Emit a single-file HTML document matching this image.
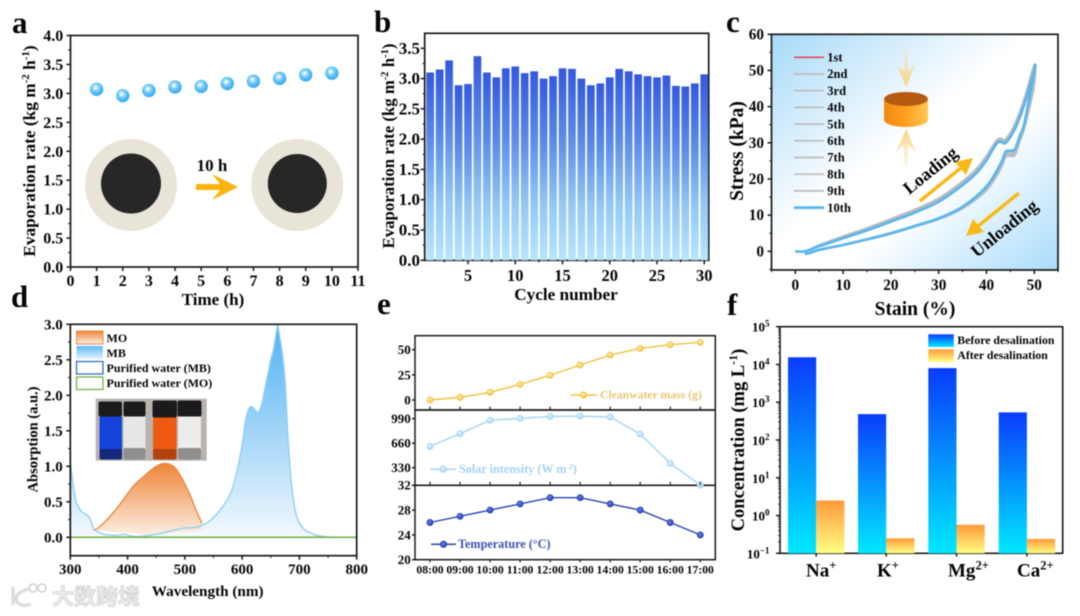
<!DOCTYPE html>
<html lang="en">
<head>
<meta charset="utf-8">
<title>Evaporation performance figure</title>
<style>
html,body{margin:0;padding:0;background:#fff;width:1080px;height:616px;overflow:hidden}
svg{display:block;filter:blur(0.55px);font-family:"Liberation Serif","Noto Serif CJK SC",serif;font-weight:bold;color:#111}
text{fill:#050505}
.letter{font-size:31px}
</style>
</head>
<body>
<svg id="fig" xmlns="http://www.w3.org/2000/svg" width="1080" height="616" viewBox="0 0 1080 616">
<defs>
<radialGradient id="sphere" cx="0.42" cy="0.38" r="0.62"><stop offset="0" stop-color="#ffffff"/><stop offset="0.14" stop-color="#e2f5ff"/><stop offset="0.36" stop-color="#8bd4fb"/><stop offset="0.65" stop-color="#55bdf6"/><stop offset="1" stop-color="#3ba9ee"/></radialGradient>
<linearGradient id="barB" x1="0" y1="0" x2="0" y2="1"><stop offset="0" stop-color="#3459dc"/><stop offset="0.35" stop-color="#5a8ae6"/><stop offset="0.7" stop-color="#94c8f4"/><stop offset="1" stop-color="#b8e6ff"/></linearGradient>
<linearGradient id="bgC" x1="0" y1="0" x2="1" y2="1"><stop offset="0" stop-color="#a6daf9"/><stop offset="0.45" stop-color="#ffffff"/><stop offset="0.62" stop-color="#ffffff"/><stop offset="1" stop-color="#a9dcfb"/></linearGradient>
<linearGradient id="cyl" x1="0" y1="0" x2="1" y2="0"><stop offset="0" stop-color="#f08a12"/><stop offset="0.5" stop-color="#ff9f22"/><stop offset="1" stop-color="#ffc94f"/></linearGradient>
<linearGradient id="fadeDown" x1="0" y1="0" x2="0" y2="1"><stop offset="0" stop-color="#f9d98c" stop-opacity="0"/><stop offset="1" stop-color="#f9d27a"/></linearGradient>
<linearGradient id="fadeUp" x1="0" y1="1" x2="0" y2="0"><stop offset="0" stop-color="#f9d98c" stop-opacity="0"/><stop offset="1" stop-color="#f9d27a"/></linearGradient>
<linearGradient id="mbFill" gradientUnits="userSpaceOnUse" x1="0" y1="324" x2="0" y2="537"><stop offset="0" stop-color="#4fb2f3"/><stop offset="0.55" stop-color="#a9d8f8"/><stop offset="1" stop-color="#f3f9fe"/></linearGradient>
<linearGradient id="moFill" gradientUnits="userSpaceOnUse" x1="0" y1="463" x2="0" y2="537"><stop offset="0" stop-color="#ee8436"/><stop offset="1" stop-color="#fdf1e8"/></linearGradient>
<linearGradient id="mbSw" x1="0" y1="0" x2="0" y2="1"><stop offset="0" stop-color="#5fbaf5"/><stop offset="1" stop-color="#e3f3fe"/></linearGradient>
<linearGradient id="moSw" x1="0" y1="0" x2="0" y2="1"><stop offset="0" stop-color="#ee8436"/><stop offset="1" stop-color="#fdf1e8"/></linearGradient>
<linearGradient id="beforeF" x1="0" y1="0" x2="0" y2="1"><stop offset="0" stop-color="#0a3cfb"/><stop offset="1" stop-color="#00e9ff"/></linearGradient>
<linearGradient id="afterF" x1="0" y1="0" x2="0" y2="1"><stop offset="0" stop-color="#ff9a3a"/><stop offset="1" stop-color="#ffff82"/></linearGradient>
<radialGradient id="mY" cx="0.42" cy="0.38" r="0.62"><stop offset="0" stop-color="#fff0b8"/><stop offset="1" stop-color="#f2c23e"/></radialGradient>
<radialGradient id="mL" cx="0.42" cy="0.38" r="0.62"><stop offset="0" stop-color="#e6f5ff"/><stop offset="1" stop-color="#a3d5f5"/></radialGradient>
<radialGradient id="mD" cx="0.42" cy="0.38" r="0.62"><stop offset="0" stop-color="#6f86e6"/><stop offset="1" stop-color="#1f3bb0"/></radialGradient>
</defs>

<rect width="1080" height="616" fill="#fff"/>

<!-- panel letters -->
<text class="letter" x="12" y="33">a</text>
<text class="letter" x="374" y="32">b</text>
<text class="letter" x="726" y="32">c</text>
<text class="letter" x="11" y="307">d</text>
<text class="letter" x="377" y="314">e</text>
<text class="letter" x="727" y="315">f</text>

<!-- panel a -->
<g id="panelA">
  <g>
    <circle cx="131" cy="185" r="46" fill="#e8e5d8"/>
    <circle cx="131" cy="183.5" r="30" fill="#272727"/>
  </g>
  <g>
    <circle cx="297.3" cy="185" r="46" fill="#e8e5d8"/>
    <circle cx="297.3" cy="183.5" r="29.5" fill="#272727"/>
  </g>
  <text x="212" y="171" text-anchor="middle" font-size="17">10 h</text>
  <path d="M196 184h24l-8-10 26 13-26 13 8-10h-24z" fill="#fbb40f"/>
  <rect x="70.5" y="35.5" width="287.5" height="231.5" fill="none" stroke="#1a1a1a" stroke-width="1.7"/>
  <text transform="translate(35 151) rotate(-90)" text-anchor="middle" font-size="17.3">Evaporation rate (kg m<tspan font-size="11" dy="-6">-2</tspan><tspan dy="6"> h</tspan><tspan font-size="11" dy="-6">-1</tspan><tspan dy="6">)</tspan></text>
  <text x="213" y="305" text-anchor="middle" font-size="17">Time (h)</text>
</g>

<!-- panel b -->
<g id="panelB">
  <rect x="424.7" y="33.3" width="284" height="227" fill="none" stroke="#1a1a1a" stroke-width="1.7"/>
  <text transform="translate(394 146) rotate(-90)" text-anchor="middle" font-size="16.8">Evaporation rate (kg m<tspan font-size="10.5" dy="-6">-2</tspan><tspan dy="6"> h</tspan><tspan font-size="10.5" dy="-6">-1</tspan><tspan dy="6">)</tspan></text>
  <text x="566" y="300" text-anchor="middle" font-size="17.2">Cycle number</text>
</g>

<!-- panel c -->
<g id="panelC">
  <rect x="771.5" y="34.3" width="286.5" height="235.7" fill="url(#bgC)"/>
  <g>
    <path d="M904 43h4v28l7-6-9 22-9-22 7 6z" fill="url(#fadeDown)"/>
    <path d="M904 172h4v-27l8 7-10-23-10 23 8-7z" fill="url(#fadeUp)"/>
    <path d="M884 99v21a22 7 0 0 0 44 0v-21z" fill="url(#cyl)"/>
    <ellipse cx="906" cy="99" rx="22" ry="7" fill="#b65a10"/>
  </g>
  <path d="M920 201 L962 167" stroke="#f8b916" stroke-width="3.4" fill="none"/>
  <path d="M973 158 L955 162 L966 175 Z" fill="#f8b916"/>
  <path d="M1019 193 L977 227" stroke="#f8b916" stroke-width="3.4" fill="none"/>
  <path d="M966 236 L984 232 L973 219 Z" fill="#f8b916"/>
  <text transform="translate(934 175) rotate(-39)" text-anchor="middle" font-size="18">Loading</text>
  <text transform="translate(1008 233) rotate(-39)" text-anchor="middle" font-size="18">Unloading</text>
  <g id="curvesC"></g>
  <g id="legendC"></g>
  <rect x="771.5" y="34.3" width="286.5" height="235.7" fill="none" stroke="#1a1a1a" stroke-width="1.7"/>
  <text transform="translate(743 151) rotate(-90)" text-anchor="middle" font-size="19.5">Stress (kPa)</text>
  <text x="915" y="315" text-anchor="middle" font-size="19.5">Stain (%)</text>
</g>

<!-- panel d -->
<g id="panelD">
  <g id="spectraD"></g>
  <g>
    <rect x="76.5" y="331" width="26.5" height="13" fill="url(#moSw)" stroke="#ec8a43" stroke-width="1"/>
    <text x="106.5" y="342" font-size="12">MO</text>
    <rect x="76.5" y="346" width="26.5" height="13" fill="url(#mbSw)"/>
    <text x="106.5" y="357" font-size="12">MB</text>
    <rect x="76.5" y="361.5" width="26.5" height="12.5" fill="#fff" stroke="#2a62c8" stroke-width="1.2"/>
    <text x="106.5" y="372" font-size="12">Purified water (MB)</text>
    <rect x="76.5" y="377" width="26.5" height="12.5" fill="#fff" stroke="#6fb03c" stroke-width="1.2"/>
    <text x="106.5" y="387" font-size="12">Purified water (MO)</text>
  </g>
  <g>
    <rect x="95.7" y="398.7" width="111" height="62" fill="#b8b3ae"/>
    <rect x="99.5" y="416" width="22.5" height="43.5" rx="2" fill="#1343d8"/>
    <rect x="99.5" y="449" width="22.5" height="10.5" rx="2" fill="#15297a"/>
    <rect x="98.5" y="401.5" width="23.5" height="15" rx="2" fill="#1b1b1d"/>
    <rect x="123.5" y="416" width="22" height="43.5" rx="2" fill="#e6e6e6"/>
    <rect x="123.5" y="448" width="22" height="11.5" rx="2" fill="#8f8f8f"/>
    <rect x="123.5" y="401.5" width="22" height="15" rx="2" fill="#1b1b1d"/>
    <rect x="153" y="416" width="23.5" height="43.5" rx="2" fill="#ef5a12"/>
    <rect x="153" y="449" width="23.5" height="10.5" rx="2" fill="#b4420f"/>
    <rect x="152.5" y="400.5" width="24.5" height="17" rx="2" fill="#1b1b1d"/>
    <rect x="178" y="416" width="23" height="43.5" rx="2" fill="#ececec"/>
    <rect x="178" y="448" width="23" height="11.5" rx="2" fill="#8f8f8f"/>
    <rect x="177.5" y="400.5" width="24" height="16" rx="2" fill="#1b1b1d"/>
  </g>
  <rect x="70.3" y="324.3" width="286.4" height="231.4" fill="none" stroke="#1a1a1a" stroke-width="1.7"/>
  <text transform="translate(37.5 439.5) rotate(-90)" text-anchor="middle" font-size="14.5">Absorption (a.u.)</text>
  <text x="207.7" y="596" text-anchor="middle" font-size="15.2">Wavelength (nm)</text>
</g>

<!-- panel e -->
<g id="panelE">
  <rect x="415" y="335.7" width="300.3" height="74.3" fill="none" stroke="#1a1a1a" stroke-width="1.5"/>
  <rect x="415" y="410" width="300.3" height="75.3" fill="none" stroke="#1a1a1a" stroke-width="1.5"/>
  <rect x="415" y="485.3" width="300.3" height="74.4" fill="none" stroke="#1a1a1a" stroke-width="1.5"/>
  <g>
    <line x1="571" x2="597" y1="395" y2="395" stroke="#f2c23e" stroke-width="1.5"/>
    <circle cx="583.5" cy="395" r="3.2" fill="url(#mY)" stroke="#eebd36" stroke-width="0.7"/>
    <text x="600" y="398.7" font-size="11.7" style="fill:#e8c677">Cleanwater mass (g)</text>
  </g>
  <g>
    <line x1="430" x2="456" y1="469.3" y2="469.3" stroke="#a3d5f5" stroke-width="1.5"/>
    <circle cx="443" cy="469.3" r="3.2" fill="url(#mL)" stroke="#98cff2" stroke-width="0.7"/>
    <text x="459" y="473" font-size="12.2" style="fill:#a5d3f1">Solar intensity (W m<tspan font-size="7.5" dy="-4">-2</tspan><tspan dy="4">)</tspan></text>
  </g>
  <g>
    <line x1="431" x2="456" y1="544.3" y2="544.3" stroke="#2a46b8" stroke-width="1.5"/>
    <circle cx="443.5" cy="544.3" r="3.2" fill="url(#mD)" stroke="#223aa8" stroke-width="0.7"/>
    <text x="458" y="548" font-size="12.2" style="fill:#3d53b5">Temperature (°C)</text>
  </g>
</g>

<!-- panel f -->
<g id="panelF">
  <rect x="780" y="326.7" width="282.7" height="226.6" fill="none" stroke="#1a1a1a" stroke-width="1.6"/>
  <g>
    <rect x="928.3" y="334.3" width="25.5" height="12.7" fill="url(#beforeF)"/>
    <text x="957.3" y="344.2" font-size="11.8">Before desalination</text>
    <rect x="928.3" y="349.3" width="25.5" height="12.7" fill="url(#afterF)"/>
    <text x="957.3" y="358.9" font-size="11.8">After desalination</text>
  </g>
  <text transform="translate(744 440) rotate(-90)" text-anchor="middle" font-size="18.5">Concentration (mg L<tspan font-size="12" dy="-7">-1</tspan><tspan dy="7">)</tspan></text>
  <text x="806" y="576.7" font-size="19">Na<tspan font-size="12.5" dy="-7">+</tspan></text>
  <text x="877" y="576.7" font-size="19">K<tspan font-size="12.5" dy="-7">+</tspan></text>
  <text x="948" y="576.7" font-size="19">Mg<tspan font-size="12.5" dy="-7">2+</tspan></text>
  <text x="1017" y="576.7" font-size="19">Ca<tspan font-size="12.5" dy="-7">2+</tspan></text>
</g>

<!-- watermark -->
<g>
  <path d="M13 587v18M28 589c-10 3-15 8-10 14 3 3 9 3 13 1" fill="none" stroke="#dcdcdc" stroke-width="3.4"/>
  <circle cx="33" cy="588" r="4" fill="none" stroke="#d6d6d6" stroke-width="1.8"/>
  <circle cx="42" cy="588" r="4" fill="none" stroke="#d6d6d6" stroke-width="1.8"/>
  <text x="52" y="604.5" font-size="22" font-weight="bold" style="font-family:'Liberation Sans','Noto Sans CJK SC',sans-serif;fill:#ececec;stroke:#c8c8c8;stroke-width:0.6">大数跨境</text>
</g>
</svg>

<script>
// ---------- Panel a data ----------
const hoursA = [1,2,3,4,5,6,7,8,9,10];
const rateA = [3.07,2.96,3.05,3.11,3.12,3.17,3.21,3.26,3.32,3.35];
const xTicksA = [0,1,2,3,4,5,6,7,8,9,10,11];
const yTicksA = ['0.0','0.5','1.0','1.5','2.0','2.5','3.0','3.5','4.0'];

// ---------- Panel b data ----------
const rateB = [3.10,3.15,3.30,2.89,2.91,3.37,3.10,3.02,3.17,3.20,3.09,3.12,3.00,3.04,3.17,3.16,3.00,2.89,2.92,3.02,3.16,3.12,3.07,3.04,3.02,3.05,2.88,2.87,2.92,3.07];
const xTicksB = [5,10,15,20,25,30];
const yTicksB = ['0.0','0.5','1.0','1.5','2.0','2.5','3.0','3.5'];

// ---------- Panel c data ----------
const cycleNames = ['1st','2nd','3rd','4th','5th','6th','7th','8th','9th','10th'];
const strainPath = [0,2,5,10,15,20,25,30,35,38,40,42,43,44,46,48,50,50,48,47,46,45,44,43,40,35,30,25,20,15,10,5,3,2];
const stress1 = [0,0,1.7,4.1,6.4,8.9,11.4,14.5,19.2,22.7,26.2,30.4,31,30.9,35.2,42.4,51.2,46.6,34.6,30.8,26.9,26.5,26.2,23,17,11.9,8.9,6.8,4.8,3.2,1.7,.4,-.4,-.6];
const stress2 = [0,0,1.8,4.2,6.5,9,11.6,14.7,19.4,23,26.5,30.6,31.3,31.1,35.5,42.8,51.7,47,34.8,31,27,26.6,26.3,23.1,17.1,12,8.9,6.9,4.9,3.2,1.7,.4,-.4,-.6];
const stress3 = [0,0,1.7,4.1,6.4,8.9,11.5,14.6,19.3,22.9,26.4,30.5,31.2,31,35.3,42.6,51.5,45.7,34.2,30.4,26.6,26.3,26,22.8,16.8,11.8,8.8,6.8,4.8,3.2,1.7,.4,-.4,-.6];
const stress4 = [0,0,1.6,4,6.3,8.8,11.3,14.4,19.1,22.6,26.1,30.3,30.9,30.8,35,42.2,51,46,34.5,30.7,26.8,26.4,26.1,22.9,16.9,11.8,8.9,6.8,4.8,3.2,1.7,.4,-.4,-.6];
const stress5 = [0,0,1.6,3.9,6.2,8.7,11.2,14.3,19,22.5,26,30.2,30.8,30.7,34.9,42,50.8,46.4,34.7,30.9,27,26.6,26.3,23.1,17,11.9,8.9,6.9,4.9,3.2,1.7,.4,-.4,-.6];
const stress6 = [0,0,1.6,3.9,6.2,8.6,11.1,14.2,18.9,22.4,25.9,30.1,30.7,30.6,34.8,41.9,50.7,46.8,34.9,31.1,27.2,26.8,26.5,23.2,17.1,12,8.9,6.9,4.9,3.2,1.7,.4,-.4,-.6];
const stress7 = [0,0,1.5,3.8,6.1,8.5,11,14.1,18.8,22.3,25.8,30,30.6,30.5,34.7,41.7,50.5,47.2,35.1,31.3,27.4,27,26.7,23.4,17.3,12.1,9,6.9,4.9,3.3,1.7,.4,-.5,-.6];
const stress8 = [0,0,1.5,3.8,6,8.5,11,14,18.7,22.2,25.6,29.9,30.5,30.4,34.5,41.5,50.4,47.6,35.3,31.5,27.6,27.2,26.9,23.6,17.5,12.1,9,7,5,3.3,1.7,.4,-.5,-.6];
const stress9 = [0,0,1.5,3.7,6,8.4,10.9,13.9,18.5,22,25.4,29.8,30.4,30.2,34.3,41.2,50.2,48,35.5,31.7,27.9,27.4,27.1,23.9,17.7,12.2,9,7,5,3.3,1.7,.4,-.5,-.7];
const stress10 = [0,0,1.4,3.6,5.8,8.2,10.7,13.7,18.3,21.8,25.2,29.6,30.3,30,34,40.9,50,50,35.8,32,28.3,27.8,27.5,24.3,17.9,12.3,9.1,7,5,3.3,1.75,.4,-.5,-.7];
const cycleStress = [stress1,stress2,stress3,stress4,stress5,stress6,stress7,stress8,stress9,stress10];
const xTicksC = [0,10,20,30,40,50];
const yTicksC = [0,10,20,30,40,50,60];

// ---------- Panel d data ----------
const waveMB = [300,305,310,315,320,330,335,340,345,350,360,370,380,395,405,420,440,460,480,500,520,530,540,550,560,570,580,590,600,605,610,615,620,625,630,635,640,645,650,655,660,662,665,670,675,680,685,690,695,700,710,720,730,750,800];
const absMB = [1.05,.75,.5,.42,.36,.31,.25,.13,.09,.07,.04,.03,.03,.04,.02,.01,.03,.06,.1,.13,.14,.17,.21,.28,.37,.48,.62,.9,1.3,1.6,1.78,1.84,1.82,1.77,1.78,1.9,2.1,2.3,2.5,2.65,2.9,3.0,2.85,2.6,2.2,1.4,.85,.5,.3,.2,.1,.06,.03,.005,0];
const waveMO = [340,350,370,390,410,430,450,465,480,490,500,510,520,530];
const absMO = [.1,.14,.3,.5,.72,.87,1.0,1.04,1.0,.9,.75,.58,.37,.2];
const wavePurified = [300,800];
const absPurifiedMB = [0,0];
const absPurifiedMO = [0,0];
const xTicksD = [300,400,500,600,700,800];
const yTicksD = ['0.0','0.5','1.0','1.5','2.0','2.5','3.0'];

// ---------- Panel e data ----------
const timesE = ['08:00','09:00','10:00','11:00','12:00','13:00','14:00','15:00','16:00','17:00'];
const massE = [0,2.6,7.6,15.6,24.5,34.8,44.7,51.3,55,57.3];
const solarE = [617,788,968,994,1021,1026,1012,783,388,96];
const tempE = [26,27,28,29,30,30,29,28,26,24];
const massTicks = [0,25,50];
const solarTicks = [330,660,990];
const tempTicks = [20,24,28,32];

// ---------- Panel f data ----------
const ionsF = ['Na','K','Mg','Ca'];
const beforeF = [15500,484,8000,537];
const afterF = [2.5,0.25,0.57,0.24];
const logTicksF = [-1,0,1,2,3,4,5];

// ---------- axis functions ----------
const xA = v => 70.5 + v * 26.136;
const yA = v => 267 - v * 57.875;
const xB = v => 430.2 + (v - 1) * 9.45;
const yB = v => 260.3 - v * 60.57;
const xC = v => 795.3 + v * 4.78;
const yC = v => 251.3 - v * 3.617;
const xD = v => 70.3 + (v - 300) * 0.5728;
const yD = v => 537.3 - v * 71;
const xE = i => 430 + i * 30.03;
const yMass = v => 400 - v * 1.006;
const ySolar = v => 418.7 + (990 - v) * 0.0742;
const yTemp = v => 559.7 - (v - 20) * 6.2;
const yF = v => 553.3 - (Math.log10(v) + 1) * 37.77;

const NS = 'http://www.w3.org/2000/svg';
function mk(tag, attrs, parent) {
  const node = document.createElementNS(NS, tag);
  for (const k in attrs) node.setAttribute(k, attrs[k]);
  parent.appendChild(node);
  return node;
}
function linePath(xs, ys) {
  return xs.map((v, i) => (i ? 'L' : 'M') + v.toFixed(2) + ' ' + ys[i].toFixed(2)).join('');
}
// smooth curve through the data points (Catmull-Rom to Bezier)
function smoothPath(xs, ys) {
  let d = 'M' + xs[0].toFixed(2) + ' ' + ys[0].toFixed(2);
  for (let i = 0; i < xs.length - 1; i++) {
    const p = Math.max(i - 1, 0), n = Math.min(i + 2, xs.length - 1);
    const c1x = xs[i] + (xs[i + 1] - xs[p]) / 6, c1y = ys[i] + (ys[i + 1] - ys[p]) / 6;
    const c2x = xs[i + 1] - (xs[n] - xs[i]) / 6, c2y = ys[i + 1] - (ys[n] - ys[i]) / 6;
    d += 'C' + c1x.toFixed(2) + ' ' + c1y.toFixed(2) + ' ' + c2x.toFixed(2) + ' ' + c2y.toFixed(2) + ' ' + xs[i + 1].toFixed(2) + ' ' + ys[i + 1].toFixed(2);
  }
  return d;
}
function tick(parent, x1, y1, x2, y2, name, w) {
  const t = mk('line', {x1: x1, y1: y1, x2: x2, y2: y2, stroke: '#1a1a1a', 'stroke-width': w || 1.5}, parent);
  
  
}
function label(parent, x, y, str, size, anchor, name) {
  const t = mk('text', {x: x, y: y, 'font-size': size, 'text-anchor': anchor}, parent);
  t.textContent = str;
  
  
  return t;
}
function yAxis(parent, vals, scale, axisX, labelX, size, dy, panel, len) {
  vals.forEach(v => {
    const y = scale(Number(v));
    tick(parent, axisX - (len || 4), y, axisX, y, 'y-tick-' + panel + '-' + v);
    label(parent, labelX, y + dy, String(v), size, 'end', 'y-tick-label-' + panel + '-' + v);
  });
}
function xAxis(parent, vals, scale, axisY, labelY, size, panel, len) {
  vals.forEach(v => {
    const x = scale(Number(v));
    tick(parent, x, axisY, x, axisY + (len || 4), 'x-tick-' + panel + '-' + v);
    label(parent, x, labelY, String(v), size, 'middle', 'x-tick-label-' + panel + '-' + v);
  });
}

// ---------- panel a marks ----------
const gA = document.getElementById('panelA');
yAxis(gA, yTicksA, yA, 70.5, 63.3, 16, 5.5, 'a');
xAxis(gA, xTicksA, xA, 267, 286, 16, 'a');
for (let v = 0.25; v < 4; v += 0.5) tick(gA, 68, yA(v), 70.5, yA(v), 'y-minor-tick-a', 1);
hoursA.forEach((h, i) => {
  const c = mk('circle', {cx: xA(h), cy: yA(rateA[i]), r: 6.7, fill: 'url(#sphere)'}, gA);
  
  
});

// ---------- panel b marks ----------
const gB = document.getElementById('panelB');
rateB.forEach((v, i) => {
  const r = mk('rect', {x: xB(i + 1) - 3.85, y: yB(v), width: 7.7, height: 260.3 - yB(v), fill: 'url(#barB)'}, gB);
  
  
});
yAxis(gB, yTicksB, yB, 424.7, 420, 17, 5.5, 'b');
xAxis(gB, xTicksB, xB, 260.3, 281, 16.5, 'b');
for (let v = 0.25; v < 3.75; v += 0.5) tick(gB, 422.5, yB(v), 424.7, yB(v), 'y-minor-tick-b', 1);
for (let c = 2.5; c <= 30; c += 5) tick(gB, xB(c), 260.3, xB(c), 262.5, 'x-minor-tick-b', 1);

// ---------- panel c marks ----------
const gC = document.getElementById('panelC');
const curvesC = document.getElementById('curvesC');
cycleStress.forEach((s, i) => {
  const p = mk('path', {d: smoothPath(strainPath.map(xC), s.map(yC)), fill: 'none', stroke: i === 9 ? '#5bb6ee' : (i === 0 ? '#cfa8ac' : '#bcbcbc'), 'stroke-width': i === 9 ? 2.7 : 1.7, 'stroke-linejoin': 'round'}, curvesC);
  
  
});
const legendC = document.getElementById('legendC');
cycleNames.forEach((n, i) => {
  const y = 57.3 + i * 16.7;
  const l = mk('line', {x1: 794, x2: 824, y1: y, y2: y, stroke: i === 9 ? '#5bb6ee' : (i === 0 ? '#e04a5a' : '#bcbcbc'), 'stroke-width': i === 9 ? 2.7 : 1.7}, legendC);
  
  
  label(legendC, 827.3, y + 4.2, n, 12.5, 'start', 'legend-label-' + n);
});
yAxis(gC, yTicksC, yC, 771.5, 764, 15.3, 5, 'c');
xAxis(gC, xTicksC, xC, 270, 290, 15.3, 'c');
[-5,5,15,25,35,45,55].forEach(v => tick(gC, 769.3, yC(v), 771.5, yC(v), 'y-minor-tick-c', 1));
[-5,5,15,25,35,45,55].forEach(v => tick(gC, xC(v), 270, xC(v), 272.2, 'x-minor-tick-c', 1));

// ---------- panel d marks ----------
const gD = document.getElementById('panelD');
const spectraD = document.getElementById('spectraD');
const mbXs = waveMB.map(xD), mbYs = absMB.map(yD);
const mbCurve = smoothPath(mbXs, mbYs);
const mbArea = mk('path', {d: mbCurve + 'L' + xD(800) + ' ' + yD(0) + 'L' + xD(300) + ' ' + yD(0) + 'Z', fill: 'url(#mbFill)'}, spectraD);


const moXs = waveMO.map(xD), moYs = absMO.map(yD);
const moCurve = smoothPath(moXs, moYs);
const moArea = mk('path', {d: moCurve + 'L' + xD(530) + ' ' + yD(0.1) + 'L' + xD(440) + ' ' + yD(0.03) + 'L' + xD(340) + ' ' + yD(0.1) + 'Z', fill: 'url(#moFill)'}, spectraD);


const moLine = mk('path', {d: moCurve, fill: 'none', stroke: '#ec8a43', 'stroke-width': 1.4}, spectraD);


const mbLine = mk('path', {d: mbCurve, fill: 'none', stroke: '#8fd0f5', 'stroke-width': 1.4}, spectraD);


const pMB = mk('path', {d: linePath(wavePurified.map(xD), absPurifiedMB.map(yD)), fill: 'none', stroke: '#2a62c8', 'stroke-width': 1.4}, spectraD);


const pMO = mk('path', {d: linePath(wavePurified.map(xD), absPurifiedMO.map(yD)), fill: 'none', stroke: '#6fb03c', 'stroke-width': 1.5}, spectraD);


yAxis(gD, yTicksD, yD, 70.3, 62.7, 15, 5, 'd');
xAxis(gD, xTicksD, xD, 555.7, 574, 15, 'd');
[.25,.75,1.25,1.75,2.25,2.75].forEach(v => tick(gD, 68, yD(v), 70.3, yD(v), 'y-minor-tick-d', 1));
[350,450,550,650,750].forEach(v => tick(gD, xD(v), 555.7, xD(v), 558, 'x-minor-tick-d', 1));

// ---------- panel e marks ----------
const gE = document.getElementById('panelE');
function seriesE(vals, yS, color, marker, name) {
  const xs = vals.map((v, i) => xE(i));
  const ys = vals.map(yS);
  const ln = mk('path', {d: linePath(xs, ys), fill: 'none', stroke: color, 'stroke-width': 1.4}, gE);
  
  
  vals.forEach((v, i) => {
    const c = mk('circle', {cx: xs[i], cy: ys[i], r: 3.1, fill: 'url(#' + marker + ')', stroke: color, 'stroke-width': 0.7}, gE);
    
    
  });
}
seriesE(massE, yMass, '#f2c23e', 'mY', 'mass');
seriesE(solarE, ySolar, '#a3d5f5', 'mL', 'solar');
seriesE(tempE, yTemp, '#2a46b8', 'mD', 'temperature');
yAxis(gE, massTicks, yMass, 415, 410.7, 13, 4.4, 'e-mass', 3);
yAxis(gE, solarTicks, ySolar, 415, 410.7, 13, 4.4, 'e-solar', 3);
yAxis(gE, tempTicks, yTemp, 415, 410.7, 13, 4.4, 'e-temperature', 3);
timesE.forEach((t, i) => {
  tick(gE, xE(i), 410, xE(i), 406.5, 'x-tick-e-mass-' + t, 1.1);
  tick(gE, xE(i), 485.3, xE(i), 481.8, 'x-tick-e-solar-' + t, 1.1);
  tick(gE, xE(i), 559.7, xE(i), 562.5, 'x-tick-e-temperature-' + t, 1.1);
  label(gE, xE(i), 573.3, t, 11.7, 'middle', 'x-tick-label-e-' + t);
});

// ---------- panel f marks ----------
const gF = document.getElementById('panelF');
const leftEdgeF = [788, 858, 928.3, 998.7];
ionsF.forEach((ion, i) => {
  const b = mk('rect', {x: leftEdgeF[i], y: yF(beforeF[i]), width: 28.2, height: 553.3 - yF(beforeF[i]), fill: 'url(#beforeF)'}, gF);
  
  
  const a = mk('rect', {x: leftEdgeF[i] + 28.2, y: yF(afterF[i]), width: 28.2, height: 553.3 - yF(afterF[i]), fill: 'url(#afterF)'}, gF);
  
  
  tick(gF, leftEdgeF[i] + 28.2, 553.3, leftEdgeF[i] + 28.2, 556.5, 'x-tick-f-' + ion);
});
logTicksF.forEach(p => {
  const y = yF(Math.pow(10, p));
  tick(gF, 776, y, 780, y, 'y-tick-f-' + p);
  const t = label(gF, 769.5, y + 5, '10', 13, 'end', 'y-tick-label-f-' + p);
  const sup = mk('tspan', {'font-size': 9, dy: -5}, t);
  sup.textContent = p < 0 ? '−1' : String(p);
  if (p < 5) {
    [2,3,4,5,6,7,8,9].forEach(m => {
      const my = yF(m * Math.pow(10, p));
      tick(gF, 778, my, 780, my, 'y-minor-tick-f', 0.8);
    });
  }
});
</script>
</body>
</html>
